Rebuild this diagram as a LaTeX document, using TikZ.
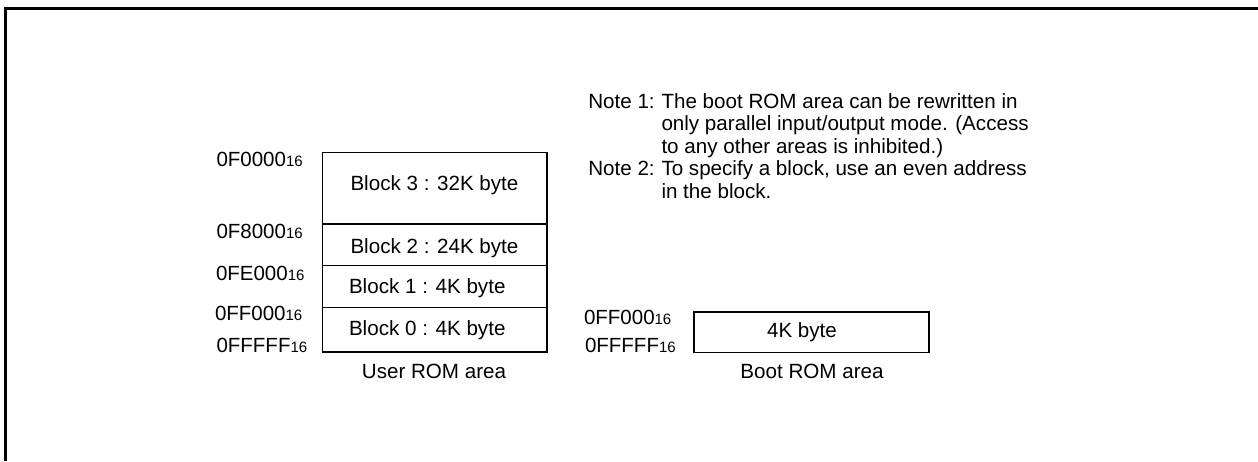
\documentclass[tikz,border=0pt]{standalone}
\usepackage{fontspec}
\setmainfont{Liberation Sans}
\newcommand\addrlbl[1]{{\fontsize{20.5pt}{22pt}\selectfont #1{\fontsize{15pt}{16pt}\selectfont 16}}}
\tikzset{
  blk/.style={draw, line width=1.3pt, inner sep=0pt, outer sep=0pt, anchor=north west},
  txt/.style={inner sep=0pt, outer sep=0pt, anchor=base west, font=\fontsize{20.6pt}{22pt}\selectfont},
  ctxt/.style={inner sep=0pt, outer sep=0pt, anchor=base, font=\fontsize{20.6pt}{22pt}\selectfont},
  lbl/.style={inner sep=0pt, outer sep=0pt, anchor=base west}
}
\begin{document}
\begin{tikzpicture}[x=1pt,y=-1pt]
\useasboundingbox (0,0) rectangle (1258,461);
% frame
\draw[line width=3pt] (1258,8.2) -- (5.5,8.2) -- (5.5,461);
% user ROM blocks
\node[blk, minimum width=224.3pt, minimum height=71.7pt] (b3) at (322.7,152.3) {};
\node[blk, minimum width=224.3pt, minimum height=41.7pt] (b2) at (322.7,224) {};
\node[blk, minimum width=224.3pt, minimum height=42pt] (b1) at (322.7,265.7) {};
\node[blk, minimum width=224.3pt, minimum height=44.3pt] (b0) at (322.7,307.7) {};
\node[txt] (t3) at (350.5,190.7) {Block 3 : 32K byte};
\node[txt] (t2) at (350.5,253) {Block 2 : 24K byte};
\node[txt] (t1) at (349,293) {Block 1 : 4K byte};
\node[txt] (t0) at (349,335) {Block 0 : 4K byte};
\node[ctxt] (user) at (434,378) {User ROM area};
% addresses
\node[lbl] (a3) at (216.5,166) {\addrlbl{0F0000}};
\node[lbl] (a2) at (216.5,238) {\addrlbl{0F8000}};
\node[lbl] (a1) at (216,280) {\addrlbl{0FE000}};
\node[lbl] (a0) at (215,320) {\addrlbl{0FF000}};
\node[lbl] (ae) at (216.5,352) {\addrlbl{0FFFFF}};
% boot ROM
\node[blk, minimum width=235pt, minimum height=40.7pt] (boot) at (694,312) {};
\node[ctxt] (bt) at (802,337.7) {4K byte};
\node[ctxt] (bootlbl) at (812,378) {Boot ROM area};
\node[lbl] (ba0) at (584,324) {\addrlbl{0FF000}};
\node[lbl] (bae) at (585,352) {\addrlbl{0FFFFF}};
% notes
\node[txt] (n1) at (588.3,108) {Note 1:};
\node[txt] (n1a) at (661.5,108) {The boot ROM area can be rewritten in};
\node[txt] (n1b) at (661.5,130.5) {only parallel input/output mode. (Access};
\node[txt] (n1c) at (661.5,153) {to any other areas is inhibited.)};
\node[txt] (n2) at (588.3,175.5) {Note 2:};
\node[txt] (n2a) at (661.5,175.5) {To specify a block, use an even address};
\node[txt] (n2b) at (661.5,198) {in the block.};
\end{tikzpicture}
\end{document}
